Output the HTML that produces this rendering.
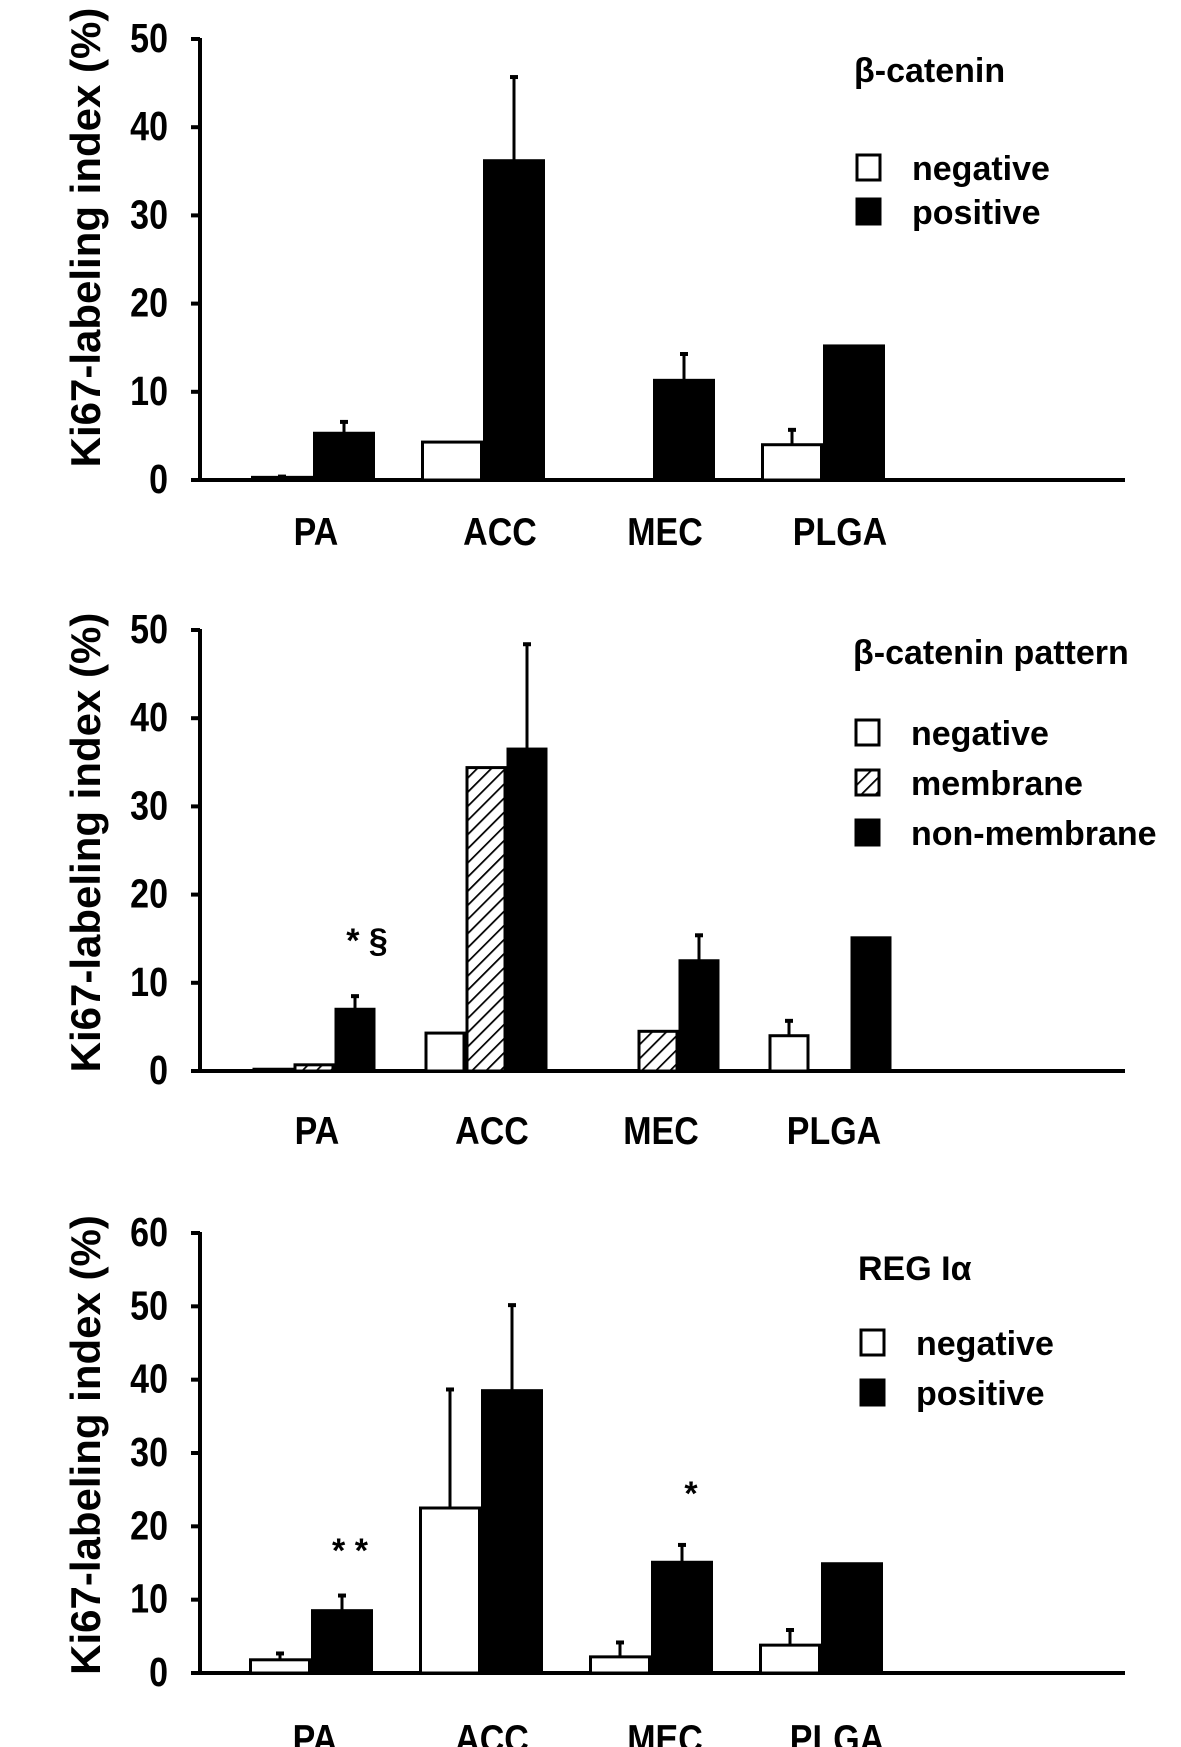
<!DOCTYPE html>
<html><head><meta charset="utf-8">
<style>
html,body{margin:0;padding:0;background:#fff;}
svg{display:block;font-family:"Liberation Sans",Arial,sans-serif;font-weight:bold;}
</style></head>
<body>
<svg id="chart" width="1181" height="1747" viewBox="0 0 1181 1747">
<defs>
<pattern id="hatch" patternUnits="userSpaceOnUse" width="10" height="10" patternTransform="rotate(45)">
<rect width="10" height="10" fill="#fff"/>
<line x1="0" y1="0" x2="0" y2="10" stroke="#000" stroke-width="3.5"/>
</pattern>
</defs>
</svg>
<script>
// ---- data ----
var categories = ["PA","ACC","MEC","PLGA"];
// Panel 1: beta-catenin
var p1Neg = [0.3, 4.3, 0, 4.0];
var p1NegErr = [0.5, null, null, 5.8];
var p1Pos = [5.3, 36.2, 11.3, 15.2];
var p1PosErr = [6.7, 45.8, 14.4, null];
var p1Ticks = [0,10,20,30,40,50];
// Panel 2: beta-catenin pattern
var p2Neg = [0.2, 4.3, 0, 4.0];
var p2NegErr = [null, null, null, 5.8];
var p2Mem = [0.7, 34.4, 4.5, 0];
var p2MemErr = [null, null, null, null];
var p2Non = [7.0, 36.5, 12.5, 15.1];
var p2NonErr = [8.6, 48.5, 15.5, null];
var p2Ticks = [0,10,20,30,40,50];
// Panel 3: REG I alpha
var p3Neg = [1.8, 22.5, 2.2, 3.8];
var p3NegErr = [2.8, 38.8, 4.3, 6.0];
var p3Pos = [8.5, 38.5, 15.1, 14.9];
var p3PosErr = [10.7, 50.3, 17.6, null];
var p3Ticks = [0,10,20,30,40,50,60];

var NS = "http://www.w3.org/2000/svg";
var svg = document.getElementById("chart");
function mk(tag, attrs, parent){
  var e = document.createElementNS(NS, tag);
  for (var k in attrs) e.setAttribute(k, attrs[k]);
  (parent||svg).appendChild(e);
  return e;
}

function panel(cfg){
  var g = mk("g", {});
  
  
  var x0 = 200, yBase = cfg.yBase, yTop = cfg.yTop, vmax = cfg.ticks[cfg.ticks.length-1];
  function y(v){ return yBase - (v / vmax) * (yBase - yTop); }
  function cx(i){ return cfg.c0 + cfg.step * i; }
  var ax = mk("line", {x1:x0, y1:yTop-1, x2:x0, y2:yBase, stroke:"#000", "stroke-width":4}, g);
  
  
  var bl = mk("line", {x1:x0-8, y1:yBase, x2:1125, y2:yBase, stroke:"#000", "stroke-width":4}, g);
  
  
  cfg.ticks.forEach(function(t){
    var tk = mk("line", {x1:x0-9, y1:y(t), x2:x0, y2:y(t), stroke:"#000", "stroke-width":4}, g);
    
    
    var tl = mk("text", {x:0, y:0, "text-anchor":"end", "font-size":34,
      transform:"translate(" + (x0-32) + "," + (y(t)+13) + ") scale(1,1.2)"}, g);
    tl.textContent = t;
    
    
  });
  var yt = mk("text", {x:0, y:0, "text-anchor":"middle", "font-size":42,
    transform:"translate(100," + ((yTop+yBase)/2 + cfg.titleOff) + ") rotate(-90)"}, g);
  yt.textContent = "Ki67-labeling index (%)";
  
  
  var n = cfg.series.length, bw = cfg.bw;
  categories.forEach(function(c, i){
    var left = cx(i) - n*bw/2;
    cfg.series.forEach(function(s, j){
      var v = s.vals[i];
      var bx = left + j*bw;
      if (v > 0){
        var r = mk("rect", {x:bx+1.5, y:y(v), width:bw-3, height:yBase-y(v), fill:s.fill, stroke:"#000", "stroke-width":3}, g);
        
        
      }
      var e = s.err[i];
      if (e != null){
        var mx = bx + bw/2;
        var el = mk("line", {x1:mx, y1:y(v), x2:mx, y2:y(e), stroke:"#000", "stroke-width":3}, g);
        
        
        var ec = mk("line", {x1:mx-4, y1:y(e)+1, x2:mx+4, y2:y(e)+1, stroke:"#000", "stroke-width":4}, g);
        
        
      }
    });
    var cl = mk("text", {x:0, y:0, "text-anchor":"middle", "font-size":34,
      transform:"translate(" + (cx(i)+cfg.lblOff[i]) + "," + cfg.lblY + ") scale(1,1.15)"}, g);
    cl.textContent = c;
    
    
  });
  var lt = mk("text", {x:cfg.legX, y:cfg.legTitleY, "font-size":34}, g);
  lt.textContent = cfg.title;
  
  
  cfg.series.forEach(function(s, j){
    var ly = cfg.legY0 + j*cfg.legStep;
    var sw = mk("rect", {x:cfg.legX+3, y:ly-25, width:23, height:25, fill:s.fill, stroke:"#000", "stroke-width":3}, g);
    
    
    var tx = mk("text", {x:cfg.legX+58, y:ly, "font-size":34}, g);
    tx.textContent = s.label;
    
    
  });
  (cfg.notes||[]).forEach(function(nt){
    var a = mk("text", {x:nt.x, y:nt.y, "text-anchor":"middle", "font-size":34}, g);
    a.textContent = nt.t;
    
    
  });
}

panel({name:"panel-beta-catenin", yTop:39, yBase:480, ticks:p1Ticks, c0:313, step:170, bw:62,
  lblY:545, lblOff:[3,17,12,17], titleOff:-22,
  series:[{key:"negative",label:"negative",fill:"#fff",vals:p1Neg,err:p1NegErr},
          {key:"positive",label:"positive",fill:"#000",vals:p1Pos,err:p1PosErr}],
  title:"β-catenin", legX:854, legTitleY:82, legY0:180, legStep:44});

panel({name:"panel-beta-catenin-pattern", yTop:630, yBase:1071, ticks:p2Ticks, c0:314, step:172, bw:41,
  lblY:1144, lblOff:[3,6,3,4], titleOff:-8,
  series:[{key:"negative",label:"negative",fill:"#fff",vals:p2Neg,err:p2NegErr},
          {key:"membrane",label:"membrane",fill:"url(#hatch)",vals:p2Mem,err:p2MemErr},
          {key:"non-membrane",label:"non-membrane",fill:"#000",vals:p2Non,err:p2NonErr}],
  title:"β-catenin pattern", legX:853, legTitleY:664, legY0:745, legStep:50,
  notes:[{x:367,y:952,t:"* §"}]});

panel({name:"panel-reg-i-alpha", yTop:1233, yBase:1673, ticks:p3Ticks, c0:311, step:170, bw:62,
  lblY:1752, lblOff:[4,11,14,16], titleOff:-8,
  series:[{key:"negative",label:"negative",fill:"#fff",vals:p3Neg,err:p3NegErr},
          {key:"positive",label:"positive",fill:"#000",vals:p3Pos,err:p3PosErr}],
  title:"REG Iα", legX:858, legTitleY:1280, legY0:1355, legStep:50,
  notes:[{x:350,y:1562,t:"* *"},{x:691,y:1505,t:"*"}]});
</script>
</body></html>
